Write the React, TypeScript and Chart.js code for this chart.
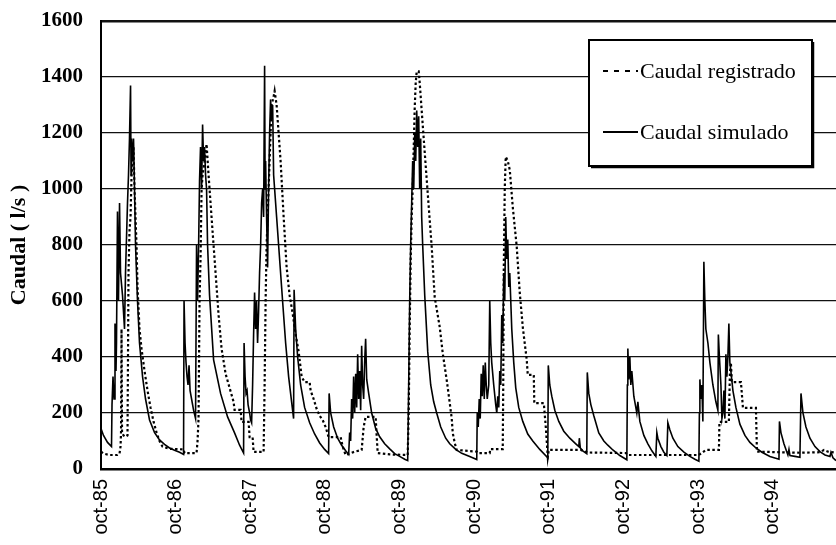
import React, { useEffect, useRef } from 'react';
import { Chart, registerables } from 'chart.js';

Chart.register(...registerables);

// x values are months counted from October 1985
const xTickMonths = [0, 12, 24, 36, 48, 60, 72, 84, 96, 108];
const xTickLabels = ['oct-85', 'oct-86', 'oct-87', 'oct-88', 'oct-89', 'oct-90', 'oct-91', 'oct-92', 'oct-93', 'oct-94'];
const yTicks = [0, 200, 400, 600, 800, 1000, 1200, 1400, 1600];
const seriesLabels = ['Caudal registrado', 'Caudal simulado'];
const yTitle = 'Caudal ( l/s )';

// Caudal simulado
const simMonths = [
  0, 0.40, 1.05, 1.69, 1.77, 1.93, 2.09, 2.25, 2.41, 2.49, 2.65, 2.81, 2.98, 3.14, 3.46, 3.78, 3.94, 4.26, 4.42, 4.58,
  4.75, 4.83, 4.91, 5.07, 5.23, 5.39, 5.55, 5.87, 6.19, 6.68, 7.16, 7.80, 8.61, 9.41, 10.21, 11.02, 11.82, 12.63, 13.27,
  13.35, 13.51, 13.67, 13.83, 13.99, 14.15, 14.32, 14.56, 14.88, 15.20, 15.36, 15.52, 15.68, 15.84, 16.00, 16.17, 16.33,
  16.49, 16.65, 16.81, 16.97, 17.13, 17.45, 18.10, 19.22, 20.35, 21.47, 22.28, 22.92,
  23.00, 23.16, 23.32, 23.48, 23.64, 23.89, 24.05, 24.21, 24.37, 24.53, 24.69, 24.85, 25.01, 25.17, 25.33, 25.49, 25.66,
  25.82, 25.98, 26.14, 26.30, 26.38, 26.46, 26.62, 26.78, 26.94, 27.10, 27.26, 27.42, 27.59, 27.75, 27.91, 28.23, 28.71,
  29.19, 29.68, 30.16, 30.64, 30.96, 31.04, 31.29, 31.61, 32.09, 32.73, 33.54, 34.34, 35.15, 35.95, 36.59, 36.67, 36.92,
  37.40, 38.04, 38.68, 39.33, 39.81, 39.97, 40.13, 40.29, 40.45, 40.61, 40.78, 40.94, 41.10, 41.26, 41.42, 41.58, 41.74,
  41.90, 42.06, 42.22, 42.38, 42.54, 42.71, 43.03, 43.51, 44.15, 44.80, 45.60, 46.41, 47.21, 48.01, 48.82, 49.30,
  49.46, 49.62, 49.78, 49.94, 50.10, 50.27, 50.43, 50.59, 50.75, 50.91, 51.07, 51.23, 51.39, 51.55, 51.71, 52.04, 52.52,
  53.00, 53.48, 53.96, 54.61, 55.41, 56.06, 57.02, 57.99, 59.27, 60.40,
  60.48, 60.64, 60.80, 60.96, 61.12, 61.28, 61.44, 61.61, 61.77, 61.93, 62.09, 62.33, 62.49, 62.65, 62.81, 63.13, 63.45,
  63.62, 63.78, 63.94, 64.10, 64.26, 64.42, 64.58, 64.74, 64.90, 65.06, 65.22, 65.39, 65.55, 65.71, 66.03, 66.35, 66.67,
  67.15, 67.80, 68.60, 69.41, 70.53, 71.82,
  71.90, 72.14, 72.46, 72.95, 73.59, 74.39, 75.36, 76.32, 76.81, 76.89, 77.05, 77.45, 78.09, 78.17, 78.41, 78.74, 79.22,
  80.02, 80.83, 81.47, 82.28, 83.40, 84.53,
  84.61, 84.69, 84.85, 85.01, 85.17, 85.33, 85.65, 85.97, 86.13, 86.30, 86.62, 87.26, 87.91, 88.55, 89.19, 89.35, 89.51,
  90.00, 90.48, 90.96, 91.12, 91.44, 91.93, 92.73, 93.70, 94.66, 95.47, 96.11,
  96.19, 96.27, 96.43, 96.59, 96.75, 96.91, 97.07, 97.23, 97.56, 97.88, 98.36, 98.84, 99.16, 99.24, 99.41, 99.65, 99.81,
  99.97, 100.13, 100.29, 100.45, 100.61, 100.77, 100.93, 101.09, 101.25, 101.58, 102.06, 102.70, 103.51, 104.31, 105.28,
  106.24, 107.53, 108.98, 109.06, 109.30, 109.78, 110.26, 110.42, 110.59, 110.75, 111.55, 112.35, 112.52, 112.84, 113.32,
  113.96, 114.77, 115.57, 116.38, 117.18, 117.34, 117.66, 118.15,
];
const simValues = [
  145, 120, 95, 80, 230, 330, 250, 520, 350, 450, 920, 600, 950, 700, 620, 500, 700, 950, 1050, 1180,
  1370, 1050, 1180, 1100, 1180, 1000, 800, 600, 450, 330, 250, 175, 130, 104, 88, 75, 67, 60, 52,
  600, 450, 380, 330, 300, 370, 280, 250, 210, 180, 800, 600, 780, 1030, 1150, 1000, 1230,
  1100, 1150, 1050, 1000, 800, 620, 390, 270, 186, 129, 85, 57,
  450, 330, 270, 280, 230, 200, 175, 165, 300, 480, 630, 500, 600, 450, 560, 700, 800,
  950, 1000, 900, 1440, 1000, 1100, 900, 720, 1000, 1200, 1320, 1250, 1300, 1050, 1000, 900, 750,
  600, 450, 330, 240, 180, 640, 500, 400, 300, 220, 165, 125, 93, 70, 55, 270, 200,
  150, 110, 85, 65, 52, 130, 100, 250, 180, 330, 200, 340, 220, 410, 250, 350, 210,
  440, 300, 250, 380, 465, 320, 270, 200, 145, 115, 90, 72, 55, 45, 35, 30,
  300, 600, 800, 950, 1100, 1000, 1200, 1100, 1280, 1150, 1260, 1000, 1180, 900, 800, 620, 420,
  300, 240, 200, 150, 110, 90, 70, 56, 45, 34,
  200, 150, 250, 180, 340, 260, 370, 250, 380, 300, 250, 300, 600, 450, 380, 300, 230,
  200, 260, 220, 350, 300, 550, 450, 700, 600, 900, 750, 820, 650, 700, 500, 380, 290,
  220, 170, 125, 100, 70, 40,
  370, 300, 260, 210, 170, 135, 110, 90, 80, 110, 75, 65, 55, 345, 270, 230, 190,
  129, 100, 85, 68, 48, 33,
  300, 430, 320, 400, 300, 350, 260, 220, 200, 240, 170, 120, 90, 65, 45, 130, 110,
  80, 60, 48, 165, 140, 110, 80, 60, 45, 35, 28,
  200, 320, 250, 300, 170, 740, 600, 500, 450, 380, 300, 240, 210, 480, 400, 300, 180,
  200, 280, 180, 410, 330, 400, 520, 380, 350, 280, 220, 160, 120, 95, 75,
  60, 45, 35, 170, 130, 90, 60, 50, 70, 48, 45, 42, 270, 200, 150,
  110, 80, 62, 50, 45, 60, 40, 30,
];

// Caudal registrado
const regMonths = [
  0, 0.40, 1.37, 2.65, 2.98, 3.14, 3.22, 3.30, 3.38, 3.62, 3.94, 4.26, 4.34, 4.42, 4.58, 4.75, 4.91, 5.07, 5.23, 5.39,
  5.55, 5.71, 5.87, 6.19, 6.51, 7.00, 7.48, 7.96, 8.44, 8.93, 9.41, 9.89, 11.02, 13.27, 13.43, 15.36, 15.52, 15.68, 15.84,
  16.00, 16.17, 16.33, 16.65, 16.97, 17.29, 17.61, 17.93, 18.42, 18.90, 19.38, 20.03, 20.67, 21.31, 21.47, 22.44, 22.60,
  23.73, 23.89, 24.37, 24.53, 26.14, 26.30, 26.46, 26.62, 26.78, 26.94, 27.10, 27.26, 27.42, 27.75, 27.91, 28.23, 28.55,
  28.87, 29.36, 29.84, 30.32, 30.80, 31.29, 31.77, 32.25, 32.73, 33.54, 33.70, 34.18, 34.66, 35.15, 35.63, 36.11, 36.59,
  38.52, 38.85, 39.33, 40.78, 41.90, 42.22, 42.54, 44.15, 44.31, 44.48, 46.41, 49.30,
  49.46, 49.62, 49.78, 49.94, 50.10, 50.27, 50.43, 50.59, 50.75, 51.07, 51.23, 51.55, 52.04, 52.52, 53.16, 53.64, 54.45,
  54.93, 55.57, 56.06, 56.38, 56.54, 56.86, 57.18, 60.40, 60.56, 62.49, 62.57, 64.58, 64.66, 64.74, 64.90, 65.06, 65.39,
  65.71, 66.19, 66.83, 67.32, 67.80, 68.44, 68.60, 69.57, 69.65, 71.18, 71.50, 71.82, 71.98, 77.13, 78.25, 84.37, 84.69,
  96.11, 97.23, 99.33, 99.41, 100.93, 101.09, 101.25, 101.41, 102.87, 103.19, 105.28, 105.44, 112.35, 115.57, 116.22,
  116.86, 118.15,
];
const regValues = [
  62, 55, 50, 50, 55, 80, 130, 500, 130, 120, 115, 120, 400, 700, 850, 900, 1050, 1100, 1150, 1000,
  900, 800, 650, 500, 430, 350, 280, 220, 170, 130, 100, 80, 72, 70, 57, 57, 100, 180, 600,
  750, 1000, 1050, 1100, 1160, 1050, 950, 850, 700, 550, 430, 340, 290, 240, 211, 211, 168,
  168, 114, 114, 61, 61, 300, 600, 800, 900, 1000, 1100, 1200, 1300, 1330, 1350, 1300, 1200,
  1100, 900, 720, 620, 557, 480, 420, 330, 310, 310, 280, 250, 215, 190, 175, 150, 114,
  114, 80, 50, 62, 68, 150, 186, 186, 120, 57, 52, 50,
  200, 500, 750, 900, 1000, 1150, 1290, 1380, 1420, 1420, 1380, 1280, 1130, 985, 793, 614, 507,
  414, 318, 236, 180, 129, 93, 68, 62, 57, 57, 71, 71, 300, 700, 1000, 1115, 1100,
  1068, 936, 793, 628, 507, 389, 336, 336, 235, 235, 150, 43, 68, 68, 59, 57, 50,
  50, 68, 68, 168, 168, 340, 380, 310, 310, 218, 218, 62, 58, 60, 68,
  62, 58,
];

const toPoints = (xs: number[], ys: number[]) => xs.map((x, i) => ({ x, y: ys[i] }));

const legendPlugin = {
  id: 'boxLegend',
  afterDraw(chart: any) {
    const ctx = chart.ctx as CanvasRenderingContext2D;
    ctx.save();
    ctx.fillStyle = '#ffffff';
    ctx.fillRect(588, 39, 226, 129);
    ctx.strokeStyle = '#000';
    ctx.setLineDash([]);
    ctx.lineWidth = 2;
    ctx.strokeRect(589, 40, 223, 126);
    ctx.lineWidth = 1.5;
    ctx.beginPath();
    ctx.moveTo(813.5, 42);
    ctx.lineTo(813.5, 167.5);
    ctx.lineTo(591, 167.5);
    ctx.stroke();
    const rows = [71, 132];
    const baselines = [78, 139];
    chart.data.datasets.forEach((ds: any, i: number) => {
      ctx.strokeStyle = '#000';
      ctx.lineWidth = 2.2;
      ctx.setLineDash(i === 0 ? [5, 6] : []);
      ctx.beginPath();
      ctx.moveTo(603, rows[i]);
      ctx.lineTo(638, rows[i]);
      ctx.stroke();
      ctx.setLineDash([]);
      ctx.fillStyle = '#000';
      ctx.font = "22px 'Liberation Serif', 'Times New Roman', serif";
      ctx.textAlign = 'left';
      ctx.textBaseline = 'alphabetic';
      ctx.fillText(ds.label, 640, baselines[i]);
    });
    ctx.restore();
  },
};

export default function App() {
  const ref = useRef<HTMLCanvasElement | null>(null);
  useEffect(() => {
    if (!ref.current) return;
    const chart = new Chart(ref.current, {
      type: 'line',
      data: {
        datasets: [
          {
            label: seriesLabels[0],
            data: toPoints(regMonths, regValues),
            borderColor: '#000',
            borderWidth: 2.2,
            borderDash: [2.5, 2.5],
            pointRadius: 0,
            tension: 0,
            fill: false,
          },
          {
            label: seriesLabels[1],
            data: toPoints(simMonths, simValues),
            borderColor: '#000',
            borderWidth: 1.6,
            pointRadius: 0,
            tension: 0,
            fill: false,
          },
        ],
      },
      options: {
        responsive: false,
        animation: false,
        parsing: false as any,
        layout: { padding: { top: 21, left: 0, right: 0, bottom: 0 } },
        plugins: { legend: { display: false }, tooltip: { enabled: false } },
        scales: {
          x: {
            type: 'linear',
            min: 0,
            max: 118.15,
            afterBuildTicks: (s: any) => {
              s.ticks = xTickMonths.map((v) => ({ value: v }));
            },
            afterFit: (s: any) => {
              s.height = 76;
              s.paddingLeft = 0;
              s.paddingRight = 0;
            },
            grid: { display: false, drawTicks: false },
            border: { display: true, color: '#000', width: 2.5 },
            ticks: {
              autoSkip: false,
              maxRotation: 90,
              minRotation: 90,
              padding: 10,
              color: '#000',
              font: { family: "'Liberation Sans', Arial, sans-serif", size: 20 },
              callback: (v: any) => {
                const i = xTickMonths.indexOf(Number(v));
                return i >= 0 ? xTickLabels[i] : '';
              },
            },
          },
          y: {
            min: 0,
            max: 1600,
            afterBuildTicks: (s: any) => {
              s.ticks = yTicks.map((v) => ({ value: v }));
            },
            afterFit: (s: any) => {
              s.width = 101;
              s.paddingTop = 0;
              s.paddingBottom = 0;
            },
            grid: {
              color: '#111',
              lineWidth: (c: any) => (c.tick && c.tick.value === 1600 ? 2.5 : 1.3),
              drawTicks: false,
            },
            border: { display: true, color: '#000', width: 2 },
            ticks: {
              padding: 18,
              color: '#000',
              font: { family: "'Liberation Serif', 'Times New Roman', serif", size: 21, weight: 'bold' },
              callback: (v: any) => String(v),
            },
            title: {
              display: true,
              text: yTitle,
              color: '#000',
              font: { family: "'Liberation Serif', 'Times New Roman', serif", size: 22, weight: 'bold' },
              padding: { top: 6, bottom: 0 },
            },
          },
        },
      },
      plugins: [legendPlugin],
    } as any);
    return () => chart.destroy();
  }, []);
  return (
    <div style={{ position: 'absolute', left: 0, top: 0, width: 836, height: 545, background: '#fff' }}>
      <canvas ref={ref} width={836} height={545} />
    </div>
  );
}
